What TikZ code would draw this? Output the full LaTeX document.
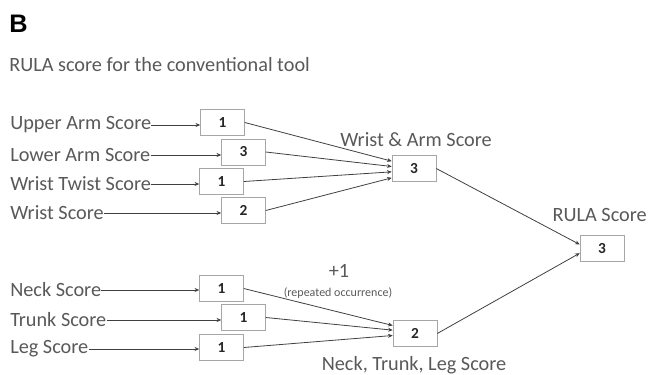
\documentclass[tikz,border=0pt]{standalone}
\usepackage{xcolor}
\usepackage{fontspec}
\setmainfont{Carlito}
\newfontfamily\headfont{Liberation Sans}
\usepackage{tikz}
\usetikzlibrary{arrows.meta}

\definecolor{labelgray}{HTML}{595959}
\definecolor{linegray}{HTML}{404040}
\definecolor{boxgray}{HTML}{A6A6A6}

\begin{document}
\begin{tikzpicture}[x=0.75pt,y=-0.75pt]
			\tikzstyle{label} = [text=labelgray, font=\fontsize{15.2}{17}\selectfont, inner sep=0pt]
			\tikzstyle{score}=[draw=boxgray, fill=white, minimum width=33pt, minimum height=19.5pt, inner sep=0pt, text=black!85, font=\fontsize{11.5}{13}\selectfont\bfseries]
			\tikzset{edge/.style = {draw=linegray, line width=0.6pt, -{Stealth[length=3.5pt,width=3pt]}}}
			\useasboundingbox (0,0) rectangle (650,375);
			
			\node[anchor=west, inner sep=0pt, font=\headfont\fontsize{19}{21}\selectfont\bfseries](panel) at (9,24) {B};
			\node[label, anchor=west](title) at (9,65) {RULA score for the conventional tool};
			
			\node[score](upperarm) at (222.5,122.5) {1};
			\node[score](lowerarm) at (243.5,152) {3};
			\node[score](wristtwist) at (221.5,181.5) {1};
			\node[score](wrist) at (243.5,210.5) {2};
			\node[score](wristarm) at (414,168.5) {3};
			\node[score](rula) at (602,248.5) {3};
			\node[score](neck) at (221.5,288.5) {1};
			\node[score](trunk) at (243.5,317.5) {1};
			\node[score](leg) at (221.5,347.5) {1};
			\node[score](ntl) at (415,333.5) {2};
			
			\node[label, anchor=west](upperarmlbl) at (10,125) {Upper Arm Score};
			\node[label, anchor=west](lowerarmlbl) at (10,155) {Lower Arm Score};
			\node[label, anchor=west](wristtwistlbl) at (10,184) {Wrist Twist Score};
			\node[label, anchor=west](wristlbl) at (10,213) {Wrist Score};
			\node[label, anchor=west](necklbl) at (10,290) {Neck Score};
			\node[label, anchor=west](trunklbl) at (10,320) {Trunk Score};
			\node[label, anchor=west](leglbl) at (10,349) {Leg Score};
			
			\draw[edge](upperarmlbl.east) to (upperarmlbl.east -| upperarm.west);
			\draw[edge](lowerarmlbl.east) to (lowerarmlbl.east -| lowerarm.west);
			\draw[edge](wristtwistlbl.east) to (wristtwistlbl.east -| wristtwist.west);
			\draw[edge](wristlbl.east) to (wristlbl.east -| wrist.west);
			\draw[edge](necklbl.east) to (necklbl.east -| neck.west);
			\draw[edge](trunklbl.east) to (trunklbl.east -| trunk.west);
			\draw[edge](leglbl.east) to (leglbl.east -| leg.west);
			
			\draw[edge](upperarm.east) to ([yshift=5.5pt]wristarm.west);
			\draw[edge](lowerarm.east) to ([yshift=1.5pt]wristarm.west);
			\draw[edge](wristtwist.east) to ([yshift=-2.5pt]wristarm.west);
			\draw[edge](wrist.east) to ([yshift=-7pt]wristarm.west);
			
			\draw[edge](neck.east) to ([yshift=6pt]ntl.west);
			\draw[edge](trunk.east) to ([yshift=2.5pt]ntl.west);
			\draw[edge](leg.east) to ([yshift=-1.5pt]ntl.west);
			
			\draw[edge](wristarm.east) to ([yshift=3pt]rula.west);
			\draw[edge](ntl.east) to ([yshift=-3.5pt]rula.west);
			
			\node[label](wristarmlbl) at (416,140) {Wrist \& Arm Score};
			\node[label, anchor=east](rulalbl) at (647,215) {RULA Score};
			\node[label](ntllbl) at (414,365) {Neck, Trunk, Leg Score};
			\node[label](plusone) at (339,271) {+1};
			\node[text=labelgray, inner sep=0pt, font=\fontsize{9}{10}\selectfont](repeated) at (338,293) {(repeated occurrence)};
			
			\end{tikzpicture}
\end{document}
